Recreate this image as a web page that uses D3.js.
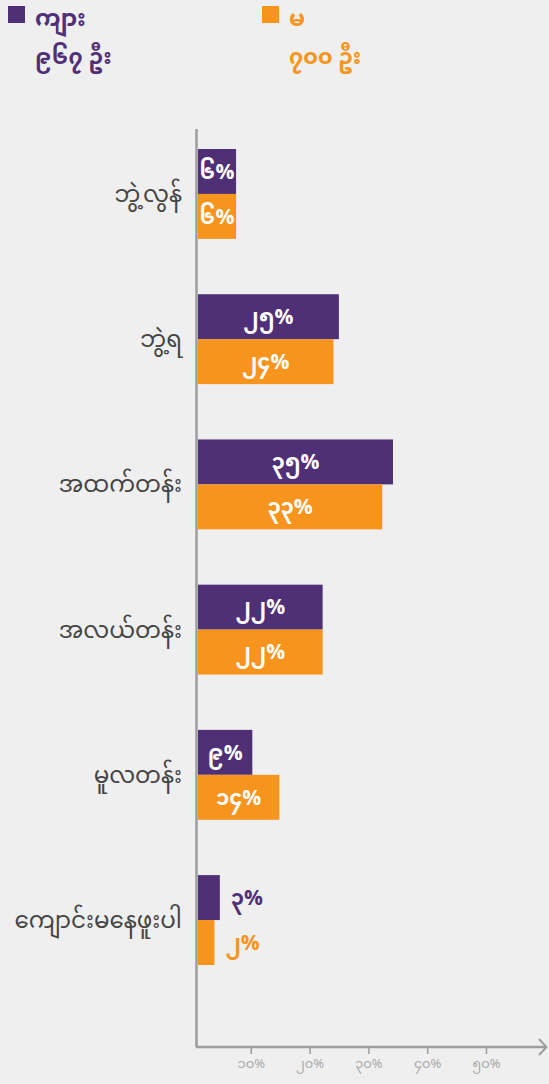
<!DOCTYPE html>
<html>
<head>
<meta charset="utf-8">
<script src="https://cdn.jsdelivr.net/npm/d3@7"></script>
<style>
  html, body { margin: 0; padding: 0; background: #efefef; }
  svg { display: block; }
  text { font-family: "Noto Sans Myanmar", "Padauk", "Myanmar Text", "Noto Sans", sans-serif; }
</style>
</head>
<body>
<script>
var w = 549, h = 1084;

// education levels, top to bottom
var categories = ["ဘွဲ့လွန်", "ဘွဲ့ရ", "အထက်တန်း", "အလယ်တန်း", "မူလတန်း", "ကျောင်းမနေဖူးပါ"];
var male = [6, 25, 35, 22, 9, 3];
var female = [6, 24, 33, 22, 14, 2];
var seriesNames = ["ကျား", "မ"];
var seriesCounts = ["၉၆၇ ဦး", "၇၀၀ ဦး"];
var colors = ["#4f3077", "#f7941d"];
var ticks = [10, 20, 30, 40, 50];

var myDigits = "၀၁၂၃၄၅၆၇၈၉";
function my(n) {
  return String(n).replace(/[0-9]/g, function(c) { return myDigits[+c]; });
}

var svg = d3.select("body").append("svg")
    .attr("width", w)
    .attr("height", h);

// bars and the drawn axis don't share an origin in the original graphic
var x = d3.scaleLinear()
    .domain([0, 35])
    .range([203.6, 393]);

var xTicks = d3.scaleLinear()
    .domain([0, 50])
    .range([192, 486]);

var y = d3.scaleBand()
    .domain(categories)
    .range([149, 965])
    .paddingInner(0.381);

var inner = d3.scaleBand()
    .domain([0, 1])
    .range([0, y.bandwidth()]);

var x0 = 198;

// legend
var legend = svg.selectAll("g.legend")
    .data(seriesNames)
  .enter().append("g")
    .attr("class", "legend")
    .attr("transform", function(d, i) { return "translate(" + (i ? 262 : 8) + ",0)"; });

legend.append("rect")
    .attr("y", 6)
    .attr("width", 17)
    .attr("height", 17)
    .attr("fill", function(d, i) { return colors[i]; });

legend.append("text")
    .attr("x", 27)
    .attr("y", 18)
    .attr("dy", ".35em")
    .attr("font-size", 23)
    .attr("font-weight", "bold")
    .attr("fill", function(d, i) { return colors[i]; })
    .text(function(d) { return d; });

legend.append("text")
    .attr("x", 27)
    .attr("y", 56)
    .attr("dy", ".35em")
    .attr("font-size", 22)
    .attr("font-weight", "bold")
    .attr("fill", function(d, i) { return colors[i]; })
    .text(function(d, i) { return seriesCounts[i]; });

// bars
var groups = svg.selectAll("g.cat")
    .data(categories)
  .enter().append("g")
    .attr("class", "cat")
    .attr("transform", function(d) { return "translate(0," + y(d) + ")"; });

groups.append("text")
    .attr("x", 182)
    .attr("y", y.bandwidth() / 2)
    .attr("dy", ".35em")
    .attr("text-anchor", "end")
    .attr("font-size", 23)
    .attr("fill", "#444")
    .text(function(d) { return d; });

var bars = groups.selectAll("g.bar")
    .data(function(d, i) {
      return [{s: 0, v: male[i]}, {s: 1, v: female[i]}];
    })
  .enter().append("g")
    .attr("class", "bar");

bars.append("rect")
    .attr("x", x0)
    .attr("y", function(d) { return inner(d.s); })
    .attr("width", function(d) { return x(d.v) - x0; })
    .attr("height", inner.bandwidth())
    .attr("fill", function(d) { return colors[d.s]; });

function outside(d) { return x(d.v) - x0 < 30; }

bars.append("text")
    .attr("x", function(d) {
      return outside(d) ? x(d.v) + 11 : (x0 + x(d.v)) / 2;
    })
    .attr("y", function(d) { return inner(d.s) + inner.bandwidth() / 2; })
    .attr("dy", ".35em")
    .attr("text-anchor", function(d) { return outside(d) ? "start" : "middle"; })
    .attr("font-size", 21)
    .attr("font-weight", "bold")
    .attr("fill", function(d) { return outside(d) ? colors[d.s] : "#fff"; })
    .text(function(d) { return my(d.v) + "%"; });

// axes
var axisY = 1047;
svg.append("line")
    .attr("x1", 196.5).attr("x2", 196.5)
    .attr("y1", 129).attr("y2", axisY)
    .attr("stroke", "#9d9d9f")
    .attr("stroke-width", 2.5);

svg.append("line")
    .attr("x1", 196).attr("x2", 546)
    .attr("y1", axisY).attr("y2", axisY)
    .attr("stroke", "#9d9d9f")
    .attr("stroke-width", 2.5);

svg.append("path")
    .attr("d", "M539,1039L546.5,1047L539,1055")
    .attr("fill", "none")
    .attr("stroke", "#9d9d9f")
    .attr("stroke-width", 2);

var xAxis = svg.append("g")
    .attr("transform", "translate(0," + axisY + ")")
    .call(d3.axisBottom(xTicks).tickValues(ticks).tickSize(7).tickFormat(function(d) { return my(d) + "%"; }));

xAxis.select(".domain").remove();
xAxis.selectAll(".tick line").attr("stroke", "#9d9d9f").attr("stroke-width", 1.5);
xAxis.selectAll(".tick text")
    .attr("y", 16)
    .attr("dy", ".35em")
    .attr("font-size", 13)
    .attr("font-family", null)
    .attr("fill", "#a8a8a8");
</script>
</body>
</html>
